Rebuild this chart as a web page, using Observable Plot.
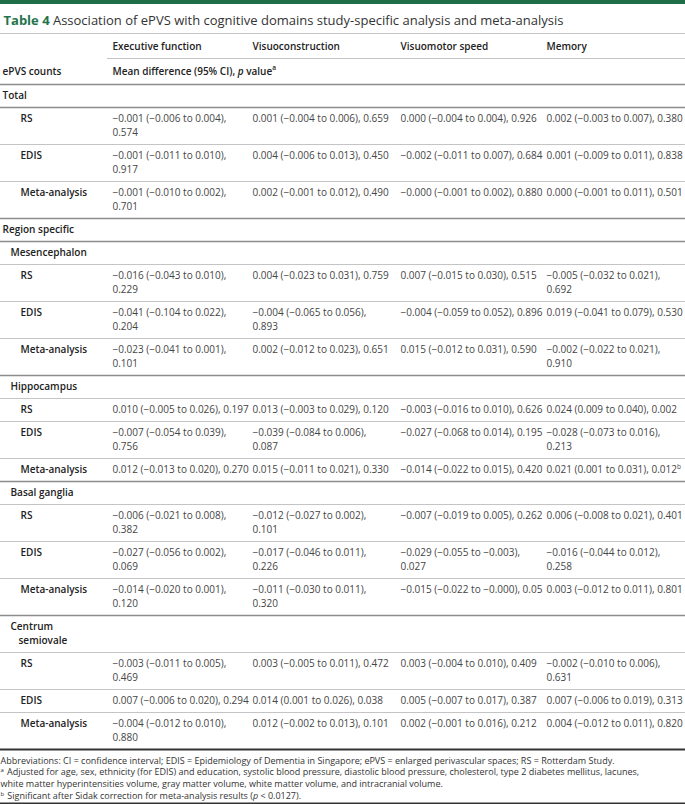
<!DOCTYPE html>
<html><head><meta charset="utf-8">
<script src="https://cdn.jsdelivr.net/npm/d3@7"></script>
<script src="https://cdn.jsdelivr.net/npm/@observablehq/plot@0.6"></script>
<style>html,body{margin:0;padding:0;background:#fff;}#chart svg{display:block;}</style>
</head><body><div id="chart"></div>
<script>
// ---------- data ----------
const tableNumber = "Table 4";
const tableTitle = "Association of ePVS with cognitive domains study-specific analysis and meta-analysis";
const domains = ["Executive function", "Visuoconstruction", "Visuomotor speed", "Memory"];
const stubHeader = "ePVS counts";
const measureHeader = "Mean difference (95% CI), *p* value^a";
const rowLabels = ["Total", "RS", "EDIS", "Meta-analysis", "Region specific", "Mesencephalon", "RS", "EDIS", "Meta-analysis", "Hippocampus", "RS", "EDIS", "Meta-analysis", "Basal ganglia", "RS", "EDIS", "Meta-analysis", "Centrum semiovale", "RS", "EDIS", "Meta-analysis"];
const rowLevels = [0, 2, 2, 2, 0, 1, 2, 2, 2, 1, 2, 2, 2, 1, 2, 2, 2, 1, 2, 2, 2];
const executive = ["", "−0.001 (−0.006 to 0.004), 0.574", "−0.001 (−0.011 to 0.010), 0.917", "−0.001 (−0.010 to 0.002), 0.701", "", "", "−0.016 (−0.043 to 0.010), 0.229", "−0.041 (−0.104 to 0.022), 0.204", "−0.023 (−0.041 to 0.001), 0.101", "", "0.010 (−0.005 to 0.026), 0.197", "−0.007 (−0.054 to 0.039), 0.756", "0.012 (−0.013 to 0.020), 0.270", "", "−0.006 (−0.021 to 0.008), 0.382", "−0.027 (−0.056 to 0.002), 0.069", "−0.014 (−0.020 to 0.001), 0.120", "", "−0.003 (−0.011 to 0.005), 0.469", "0.007 (−0.006 to 0.020), 0.294", "−0.004 (−0.012 to 0.010), 0.880"];
const visuoconstruction = ["", "0.001 (−0.004 to 0.006), 0.659", "0.004 (−0.006 to 0.013), 0.450", "0.002 (−0.001 to 0.012), 0.490", "", "", "0.004 (−0.023 to 0.031), 0.759", "−0.004 (−0.065 to 0.056), 0.893", "0.002 (−0.012 to 0.023), 0.651", "", "0.013 (−0.003 to 0.029), 0.120", "−0.039 (−0.084 to 0.006), 0.087", "0.015 (−0.011 to 0.021), 0.330", "", "−0.012 (−0.027 to 0.002), 0.101", "−0.017 (−0.046 to 0.011), 0.226", "−0.011 (−0.030 to 0.011), 0.320", "", "0.003 (−0.005 to 0.011), 0.472", "0.014 (0.001 to 0.026), 0.038", "0.012 (−0.002 to 0.013), 0.101"];
const visuomotor = ["", "0.000 (−0.004 to 0.004), 0.926", "−0.002 (−0.011 to 0.007), 0.684", "−0.000 (−0.001 to 0.002), 0.880", "", "", "0.007 (−0.015 to 0.030), 0.515", "−0.004 (−0.059 to 0.052), 0.896", "0.015 (−0.012 to 0.031), 0.590", "", "−0.003 (−0.016 to 0.010), 0.626", "−0.027 (−0.068 to 0.014), 0.195", "−0.014 (−0.022 to 0.015), 0.420", "", "−0.007 (−0.019 to 0.005), 0.262", "−0.029 (−0.055 to −0.003), 0.027", "−0.015 (−0.022 to −0.000), 0.05", "", "0.003 (−0.004 to 0.010), 0.409", "0.005 (−0.007 to 0.017), 0.387", "0.002 (−0.001 to 0.016), 0.212"];
const memory = ["", "0.002 (−0.003 to 0.007), 0.380", "0.001 (−0.009 to 0.011), 0.838", "0.000 (−0.001 to 0.011), 0.501", "", "", "−0.005 (−0.032 to 0.021), 0.692", "0.019 (−0.041 to 0.079), 0.530", "−0.002 (−0.022 to 0.021), 0.910", "", "0.024 (0.009 to 0.040), 0.002", "−0.028 (−0.073 to 0.016), 0.213", "0.021 (0.001 to 0.031), 0.012^b", "", "0.006 (−0.008 to 0.021), 0.401", "−0.016 (−0.044 to 0.012), 0.258", "0.003 (−0.012 to 0.011), 0.801", "", "−0.002 (−0.010 to 0.006), 0.631", "0.007 (−0.006 to 0.019), 0.313", "0.004 (−0.012 to 0.011), 0.820"];
const footnotes = [
  "Abbreviations: CI = confidence interval; EDIS = Epidemiology of Dementia in Singapore; ePVS = enlarged perivascular spaces; RS = Rotterdam Study.",
  "^a Adjusted for age, sex, ethnicity (for EDIS) and education, systolic blood pressure, diastolic blood pressure, cholesterol, type 2 diabetes mellitus, lacunes,",
  "white matter hyperintensities volume, gray matter volume, white matter volume, and intracranial volume.",
  "^b Significant after Sidak correction for meta-analysis results (*p* < 0.0127)."
];
const valueColumns = [executive, visuoconstruction, visuomotor, memory];

// ---------- layout ----------
const W = 685, H = 804;
const FAMILY = '"Open Sans", "DejaVu Sans", sans-serif';
const green = "#1f6e48";
const STY = {
  title:      {size: 13, weight: 400, style: "normal", fill: "#333"},
  titleNum:   {size: 13, weight: 700, style: "normal", fill: "#23744c"},
  label:      {size: 10, weight: 600, style: "normal", fill: "#222"},
  labelItalic:{size: 10, weight: 600, style: "italic", fill: "#222"},
  labelSup:   {size: 6.5, weight: 600, style: "normal", fill: "#222", dy: -3.5},
  body:       {size: 10, weight: 400, style: "normal", fill: "#454545"},
  bodyItalic: {size: 10, weight: 400, style: "italic", fill: "#454545"},
  bodySup:    {size: 6.5, weight: 400, style: "normal", fill: "#454545", dy: -3.5},
  foot:       {size: 9, weight: 400, style: "normal", fill: "#333"},
  footItalic: {size: 9, weight: 400, style: "italic", fill: "#333"},
  footSup:    {size: 6, weight: 400, style: "normal", fill: "#333", dy: -2.2}
};
const colX = [112, 252, 400, 546];
const labelX = [2, 10, 20];
const LABEL_RIGHT = 100;
const ROW = 23, LINE = 14.0;
const TITLE_Y = 20, TITLE_RULE = 33, HEAD_Y = 46, HEAD_RULE = 58, STUB_Y = 71, TABLE_TOP = 84;
const FOOT_GAP = 11.5, FOOT_LINE = 11.6;

const ctx = document.createElement("canvas").getContext("2d");
function measure(text, key) {
  const s = STY[key];
  ctx.font = `${s.style} ${s.weight} ${s.size}px ${FAMILY}`;
  return ctx.measureText(text).width;
}
function plain(str) { return str.replace(/\*/g, "").replace(/\^(\w)/g, "$1"); }

const items = [];
function addRich(str, x, y, base) {
  const parts = str.split(/(\*[^*]+\*|\^\w)/).filter(p => p !== "");
  let cx = x;
  for (const p of parts) {
    let key = base, text = p;
    if (p.startsWith("*")) { key = base + "Italic"; text = p.slice(1, -1); }
    else if (p.startsWith("^")) { key = base + "Sup"; text = p.slice(1); }
    items.push({x: cx, y, text, key});
    cx += measure(text, key) + (key.endsWith("Sup") ? 0.8 : 0);
  }
}

// wrap thresholds from template widths
const t1 = measure("0.000 (−0.000 to 0.000), 0.000", "body");
const t2 = measure("−0.000 (−0.000 to 0.000), 0.000", "body");
const t3 = measure("−0.000 (−0.000 to −0.000), 0.000", "body");
const colMax = [(t1 + t2) / 2, (t1 + t2) / 2, (t2 + t3) / 2, (t1 + t2) / 2];
function wrapValue(str, max) {
  if (!str) return [];
  if (measure(plain(str), "body") <= max) return [str];
  const k = str.lastIndexOf(", ");
  return [str.slice(0, k + 1), str.slice(k + 2)];
}

const rulesLight = [], rulesDark = [], rulesHeavy = [];
const bars = [{x1: 0, x2: W, y1: 0, y2: 4}];

// title
items.push({x: 3, y: TITLE_Y, text: tableNumber, key: "titleNum"});
items.push({x: 3 + measure(tableNumber + " ", "titleNum"), y: TITLE_Y, text: tableTitle, key: "title"});
rulesLight.push({y: TITLE_RULE, x1: 0, x2: W});
// header
domains.forEach((d, j) => items.push({x: colX[j], y: HEAD_Y, text: d, key: "label"}));
rulesLight.push({y: HEAD_RULE, x1: colX[0] - 5, x2: W});
items.push({x: labelX[0], y: STUB_Y, text: stubHeader, key: "label"});
addRich(measureHeader, colX[0], STUB_Y, "label");
rulesDark.push({y: TABLE_TOP, x1: 0, x2: W});

// body rows
let y = TABLE_TOP;
rowLabels.forEach((label, i) => {
  const level = rowLevels[i];
  const lx = labelX[level];
  let labelLines = [label];
  if (lx + measure(label, "label") > LABEL_RIGHT) {
    const k = label.indexOf(" ");
    labelLines = [label.slice(0, k), label.slice(k + 1)];
  }
  const cells = valueColumns.map((col, j) => wrapValue(col[i], colMax[j]));
  const n = Math.max(labelLines.length, ...cells.map(c => c.length));
  labelLines.forEach((t, k) => items.push({x: lx + (k > 0 ? 8 : 0), y: y + ROW / 2 + k * LINE, text: t, key: "label"}));
  cells.forEach((lines, j) => lines.forEach((t, k) => addRich(t, colX[j], y + ROW / 2 + k * LINE, "body")));
  y += ROW + (n - 1) * LINE;
  const last = i === rowLabels.length - 1;
  const dark = level === 0 || (!last && rowLevels[i + 1] < 2);
  (last ? rulesHeavy : dark ? rulesDark : rulesLight).push({y, x1: 0, x2: W});
});

// footnotes
let fy = y + FOOT_GAP;
footnotes.forEach((f, i) => { addRich(f, 0, fy + i * FOOT_LINE, "foot"); });
rulesHeavy.push({y: Math.min(H - 1, fy + (footnotes.length - 1) * FOOT_LINE + 8), x1: 0, x2: W});

// ---------- plot ----------
const textMarks = Object.keys(STY).map(key => {
  const s = STY[key];
  return Plot.text(items.filter(d => d.key === key), {
    x: "x", y: "y", text: "text", textAnchor: "start", lineAnchor: "middle",
    fontSize: s.size, fontWeight: s.weight, fontStyle: s.style, fill: s.fill, dy: s.dy || 0
  });
});

const chart = Plot.plot({
  width: W, height: H, margin: 0,
  x: {domain: [0, W], range: [0, W], axis: null},
  y: {domain: [0, H], range: [0, H], axis: null},
  style: {fontFamily: FAMILY, background: "#fff"},
  marks: [
    Plot.rect(bars, {x1: "x1", x2: "x2", y1: "y1", y2: "y2", fill: green}),
    Plot.ruleY(rulesLight, {y: "y", x1: "x1", x2: "x2", stroke: "#c4c4c4", strokeWidth: 1}),
    Plot.ruleY(rulesDark, {y: "y", x1: "x1", x2: "x2", stroke: "#8c8c8c", strokeWidth: 1.4}),
    Plot.ruleY(rulesHeavy, {y: "y", x1: "x1", x2: "x2", stroke: "#333", strokeWidth: 1.8}),
    ...textMarks
  ]
});
document.getElementById("chart").appendChild(chart);
</script>
</body></html>
